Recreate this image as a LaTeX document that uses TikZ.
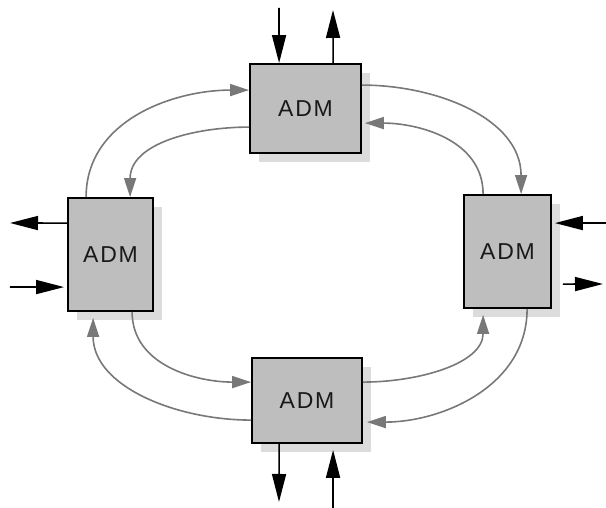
\documentclass[tikz,border=0pt]{standalone}
\usepackage{fontspec}
\setmainfont{Liberation Sans}
\newfontfamily\admfont[LetterSpace=8]{Liberation Sans}
\usetikzlibrary{arrows.meta,shadows}
\definecolor{boxgray}{HTML}{BEBEBE}
\definecolor{shadowgray}{HTML}{DCDCDC}
\definecolor{ringgray}{HTML}{787878}
\begin{document}
\begin{tikzpicture}[x=1pt,y=1pt,
  adm/.style={draw=black, line width=1.8pt, fill=boxgray, inner sep=0pt,
    font=\admfont\fontsize{23}{27}\selectfont, text=black!90,
    general shadow={fill=shadowgray, shadow xshift=9pt, shadow yshift=-9pt}},
  ring/.style={draw=ringgray, line width=1.6pt, -{Triangle[length=19pt,width=12pt]}},
  io/.style={draw=black, line width=1.6pt, -{Triangle[length=28pt,width=14pt]}},
]
\useasboundingbox (0,0) rectangle (606,508);

\node[adm, minimum width=111pt, minimum height=89pt] (nT) at (305.5,399.5) {ADM};
\node[adm, minimum width=85pt, minimum height=113pt] (nL) at (110.5,253.5) {ADM};
\node[adm, minimum width=87pt, minimum height=113pt] (nR) at (507.5,256.5) {ADM};
\node[adm, minimum width=110pt, minimum height=85pt] (nB) at (307,107.5) {ADM};

% ring connectors
\draw[ring] ([xshift=19pt]nL.north west) to[out=90,in=180] ([yshift=-27pt]nT.north west);
\draw[ring] ([yshift=-64pt]nT.north west) to[out=180,in=90] ([xshift=63pt]nL.north west);
\draw[ring] ([yshift=-22pt]nT.north east) to[out=0,in=90] ([xshift=58pt]nR.north west);
\draw[ring, shorten >=3pt] ([xshift=20pt]nR.north west) to[out=90,in=0] ([yshift=-60pt]nT.north east);
\draw[ring] ([xshift=65pt]nL.south west) to[out=-90,in=180] ([yshift=-25pt]nB.north west);
\draw[ring, shorten >=6pt] ([yshift=-63pt]nB.north west) to[out=180,in=-90] ([xshift=26pt]nL.south west);
\draw[ring, shorten >=6pt] ([yshift=-25pt]nB.north east) to[out=0,in=-90] ([xshift=20pt]nR.south west);
\draw[ring, shorten >=4pt] ([xshift=64pt]nR.south west) to[out=-90,in=0] ([yshift=-65pt]nB.north east);

% add/drop connectors
\coordinate (tIn) at (279,500);
\coordinate (tOut) at (333,498);
\draw[io] (tIn) -- ([xshift=30pt]nT.north west);
\draw[io] ([xshift=84pt]nT.north west) -- (tOut);

\coordinate (lOut) at (10,285);
\coordinate (lIn) at (10,221);
\draw[io] ([yshift=-26pt]nL.north west) -- (lOut);
\draw[io, shorten >=3pt] (lIn) -- ([yshift=-90pt]nL.north west);

\coordinate (rIn) at (606,285);
\coordinate (rOut) at (603,224);
\draw[io, shorten >=3pt] (rIn) -- ([yshift=-29pt]nR.north east);
\draw[io, shorten <=11pt] ([yshift=-90pt]nR.north east) -- (rOut);

\coordinate (bOut) at (279,6);
\coordinate (bIn) at (333,0);
\draw[io] ([xshift=28pt]nB.south west) -- (bOut);
\draw[io, shorten >=6pt] (bIn) -- ([xshift=82pt]nB.south west);
\end{tikzpicture}
\end{document}
